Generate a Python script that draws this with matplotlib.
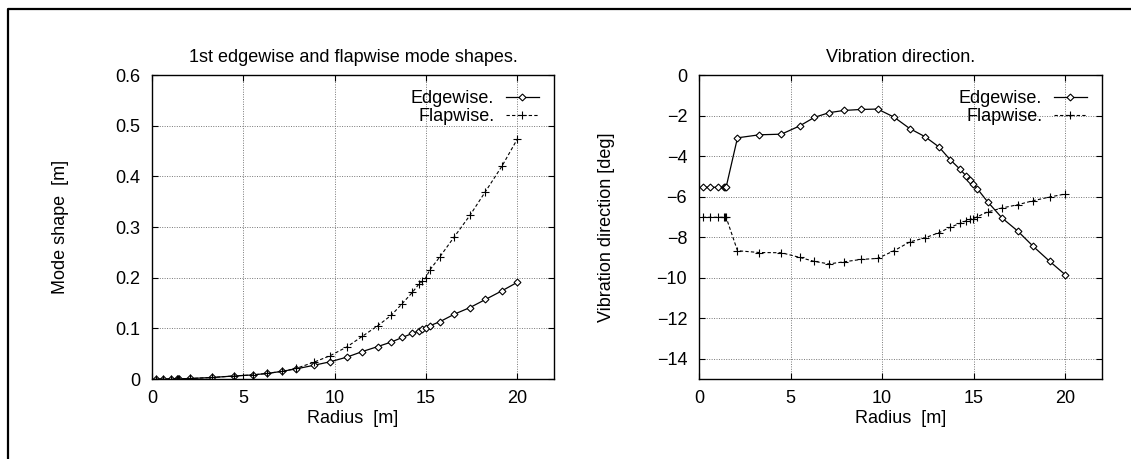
import matplotlib
matplotlib.use('Agg')
import matplotlib.pyplot as plt
from matplotlib.lines import Line2D

plt.rcParams['font.family'] = ['Liberation Sans', 'DejaVu Sans']
plt.rcParams['font.size'] = 13

# radius stations [m]
radius = [0.2, 0.6, 1.05, 1.35, 1.42, 1.48, 2.1, 3.3, 4.5, 5.5, 6.3, 7.1, 7.9, 8.85,
          9.75, 10.65, 11.5, 12.35, 13.1, 13.7, 14.25, 14.6, 14.8, 14.97, 15.2,
          15.75, 16.55, 17.4, 18.25, 19.15, 20.0]

# mode shapes [m]
edge_shape = [0.0, 0.0, 0.0, 0.0003, 0.0003, 0.0003, 0.001, 0.003, 0.006, 0.008,
              0.011, 0.015, 0.020, 0.027, 0.034, 0.043, 0.054, 0.064, 0.073, 0.082,
              0.090, 0.095, 0.098, 0.101, 0.105, 0.113, 0.128, 0.141, 0.157, 0.174, 0.191]
flap_shape = [0.0, 0.0, 0.0, 0.0003, 0.0003, 0.0003, 0.001, 0.003, 0.006, 0.008,
              0.011, 0.015, 0.021, 0.033, 0.046, 0.063, 0.084, 0.105, 0.126, 0.149,
              0.171, 0.187, 0.193, 0.199, 0.215, 0.241, 0.281, 0.323, 0.370, 0.420, 0.474]

# vibration direction [deg]
edge_dir = [-5.54, -5.54, -5.54, -5.54, -5.54, -5.54, -3.10, -2.95, -2.92, -2.51,
            -2.09, -1.86, -1.75, -1.70, -1.68, -2.08, -2.64, -3.05, -3.55, -4.17,
            -4.65, -5.00, -5.20, -5.36, -5.62, -6.25, -7.06, -7.70, -8.46, -9.20, -9.86]
flap_dir = [-7.02, -7.02, -7.02, -7.02, -7.02, -7.02, -8.67, -8.76, -8.77, -9.00,
            -9.20, -9.32, -9.22, -9.10, -9.05, -8.67, -8.24, -8.03, -7.78, -7.52,
            -7.32, -7.19, -7.12, -7.09, -6.99, -6.76, -6.56, -6.40, -6.20, -6.02, -5.87]

fig = plt.figure(figsize=(11.31, 4.59), dpi=100)

# outer frame (left and top)
fig.add_artist(Line2D([8/1131, 8/1131, 1.0], [0.0, 1-9/459, 1-9/459],
                      transform=fig.transFigure, color='black', lw=1.6))

ax1 = fig.add_axes([152/1131, 1-379/459, 402/1131, 304/459])
ax2 = fig.add_axes([699/1131, 1-379/459, 403/1131, 304/459])


def style(ax):
    ax.grid(True, color='#777777', linestyle=(0, (1, 1.5)), linewidth=0.7)
    ax.tick_params(direction='in', top=True, right=True, length=4, width=0.8)
    ax.tick_params(axis='x', pad=8)
    ax.tick_params(axis='y', pad=8.5)
    for s in ax.spines.values():
        s.set_linewidth(1.0)
    ax.set_xlim(0, 22)
    ax.set_xticks([0, 5, 10, 15, 20])
    ax.set_xlabel('Radius  [m]', labelpad=2)


edge_kw = dict(color='black', lw=0.9, marker='D', ms=3.5, mfc='white', mec='black', mew=0.8)
flap_kw = dict(color='black', lw=0.8, ls=(0, (3, 2)), marker='+', ms=6, mew=0.8)

ax1.plot(radius, edge_shape, label='Edgewise.', **edge_kw)
ax1.plot(radius, flap_shape, label='Flapwise.', **flap_kw)
style(ax1)
ax1.set_ylim(0, 0.6)
ax1.set_yticks([0, 0.1, 0.2, 0.3, 0.4, 0.5, 0.6])
ax1.set_yticklabels(['0', '0.1', '0.2', '0.3', '0.4', '0.5', '0.6'])
ax1.set_ylabel('Mode shape  [m]', labelpad=33)
ax1.set_title('1st edgewise and flapwise mode shapes.', fontsize=13, pad=9)

ax2.plot(radius, edge_dir, label='Edgewise.', **edge_kw)
ax2.plot(radius, flap_dir, label='Flapwise.', **flap_kw)
style(ax2)
ax2.set_ylim(-15, 0)
ax2.set_yticks([-14, -12, -10, -8, -6, -4, -2, 0])
ax2.set_ylabel('Vibration direction [deg]', labelpad=30)
ax2.set_title('Vibration direction.', fontsize=13, pad=9)

for ax in (ax1, ax2):
    ax.legend(loc='upper right', frameon=False, markerfirst=False, numpoints=1,
              handlelength=1.8, handletextpad=0.66, labelspacing=0.05,
              borderaxespad=0.55, borderpad=0.3, fontsize=13)

fig.savefig('out.png', dpi=100)
